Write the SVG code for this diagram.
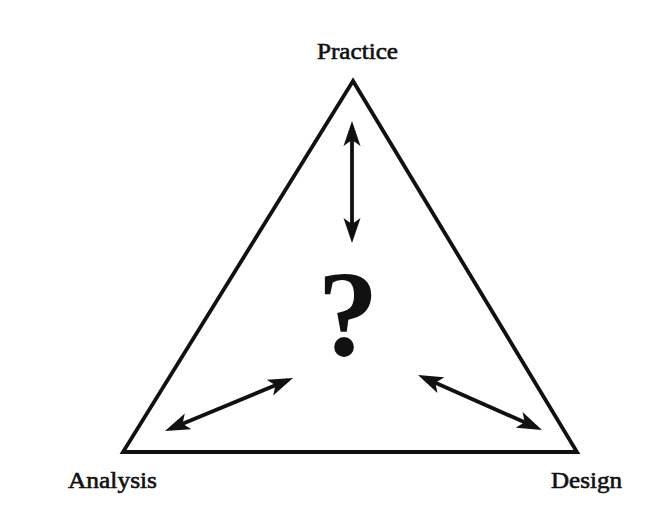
<svg xmlns="http://www.w3.org/2000/svg" width="655" height="509" viewBox="0 0 655 509">
  <style>
    .lbl { font-family: "Liberation Serif", "Times New Roman", serif; font-size: 23px; fill: #111; stroke: #111; stroke-width: 0.6; }
    .q { font-family: "Liberation Serif", "Times New Roman", serif; font-size: 122px; font-weight: bold; fill: #111; }
    .arr { stroke: #111; stroke-width: 3.8; fill: none; marker-start: url(#head); marker-end: url(#head); }
    .tri { stroke: #111; stroke-width: 3.8; fill: none; stroke-linejoin: miter; }
  </style>
  <defs>
    <marker id="head" markerUnits="userSpaceOnUse" viewBox="0 -9 25 18" refX="19" refY="0" markerWidth="25" markerHeight="18" orient="auto-start-reverse">
      <path d="M25,0 L0,-8.5 L6,0 L0,8.5 Z" fill="#111"/>
    </marker>
  </defs>
  <rect width="655" height="509" fill="#fff"/>
  <g id="triangle">
    <polygon class="tri" points="353,81 123,452 577,452"/>
  </g>
  <g id="practice">
    <text class="lbl" x="317" y="59" textLength="81" lengthAdjust="spacingAndGlyphs">Practice</text>
  </g>
  <g id="analysis">
    <text class="lbl" x="68" y="488" textLength="89" lengthAdjust="spacingAndGlyphs">Analysis</text>
  </g>
  <g id="design">
    <text class="lbl" x="551" y="488" textLength="71" lengthAdjust="spacingAndGlyphs">Design</text>
  </g>
  <g id="question">
    <text class="q" x="348" y="355" text-anchor="middle">?</text>
  </g>
  <g id="connectors">
    <line class="arr" x1="352" y1="127" x2="352" y2="237"/>
    <line class="arr" x1="170.5" y1="428.7" x2="287.5" y2="380.3"/>
    <line class="arr" x1="423.5" y1="377.4" x2="536.5" y2="427.6"/>
  </g>
</svg>
